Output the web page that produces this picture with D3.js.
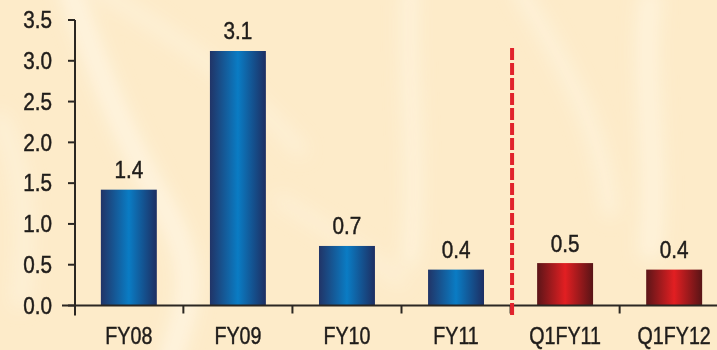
<!DOCTYPE html>
<html><head><meta charset="utf-8">
<script src="https://cdn.jsdelivr.net/npm/d3@7/dist/d3.min.js"></script>
<style>html,body{margin:0;padding:0;background:#fdebc9;}svg{display:block;}</style>
</head><body>
<svg id="c" width="717" height="350"></svg>
<script>
const categories = ["FY08","FY09","FY10","FY11","Q1FY11","Q1FY12"];
const values = [1.42, 3.12, 0.73, 0.44, 0.52, 0.44];
const valueLabels = ["1.4","3.1","0.7","0.4","0.5","0.4"];
const groups = ["annual","annual","annual","annual","quarter","quarter"];
const yTicks = [0,0.5,1.0,1.5,2.0,2.5,3.0,3.5];

const svg = d3.select("#c");
const W = 717, H = 350;
const font = "'Liberation Sans', Arial, Helvetica, sans-serif";
const axisColor = "#2b2722";
const textColor = "#1f1c1a";

const defs = svg.append("defs");
const blur = defs.append("filter").attr("id","blur").attr("x","-50%").attr("y","-50%").attr("width","200%").attr("height","200%");
blur.append("feGaussianBlur").attr("stdDeviation", 9);
function grad(id, edge1, mid, edge2){
  const g = defs.append("linearGradient").attr("id", id).attr("x1","0").attr("x2","1").attr("y1","0").attr("y2","0");
  g.append("stop").attr("offset","0%").attr("stop-color", edge1);
  g.append("stop").attr("offset","50%").attr("stop-color", mid);
  g.append("stop").attr("offset","100%").attr("stop-color", edge2);
}
grad("gBlue", "#213467", "#0a7cc4", "#1d2e62");
grad("gRed", "#5c1518", "#e21f22", "#581416");

// background
svg.append("rect").attr("width", W).attr("height", H).attr("fill", "#fdebc9");
const bg = svg.append("g").attr("filter","url(#blur)").attr("fill","none").attr("stroke","#fff8e8").attr("stroke-linecap","round");
const streaks = [
  {d:"M70,-10 C95,60 120,130 160,200 S190,300 170,360", w:22, o:0.7},
  {d:"M100,-10 C180,40 240,80 300,150", w:14, o:0.5},
  {d:"M410,-10 C405,80 420,160 410,260", w:16, o:0.6},
  {d:"M520,-10 C560,60 600,120 610,210", w:16, o:0.55},
  {d:"M650,0 C640,80 660,160 650,250", w:22, o:0.6},
  {d:"M0,120 C20,160 30,220 20,300", w:18, o:0.45},
  {d:"M280,200 C330,230 360,250 400,280", w:14, o:0.4}
];
bg.selectAll("path").data(streaks).join("path")
  .attr("d", d => d.d).attr("stroke-width", d => d.w).attr("opacity", d => d.o);

// scales
const x = d3.scaleBand().domain(categories).range([74.3, 728.7]).paddingInner(0.487).paddingOuter(0.2435);
const y = d3.scaleLinear().domain([0, 3.5]).range([305.5, 20]);
const step = x.step(), bw = x.bandwidth();
const axisX = 75, baseY = y(0);

// bars
svg.append("g").selectAll("rect").data(categories).join("rect")
  .attr("x", d => x(d)).attr("width", bw)
  .attr("y", (d,i) => y(values[i])).attr("height", (d,i) => baseY - y(values[i]))
  .attr("fill", (d,i) => groups[i] === "annual" ? "url(#gBlue)" : "url(#gRed)");

function styleText(sel, size){
  sel.attr("font-family", font).attr("font-size", size).attr("fill", textColor)
     .attr("stroke", textColor).attr("stroke-width", 0.45);
}

// value labels
styleText(svg.append("g").selectAll("text").data(categories).join("text")
  .attr("transform", (d,i) => `translate(${x(d) + bw/2},${y(values[i]) - 11.5}) scale(0.9,1)`)
  .attr("text-anchor","middle")
  .text((d,i) => valueLabels[i]), 23);

// y axis
const ya = svg.append("g");
ya.append("line").attr("x1", axisX).attr("x2", axisX).attr("y1", y(3.5)).attr("y2", baseY + 10)
  .attr("stroke", axisColor).attr("stroke-width", 2);
ya.selectAll("line.t").data(yTicks).join("line").attr("class","t")
  .attr("x1", axisX - 7).attr("x2", axisX).attr("y1", d => y(d)).attr("y2", d => y(d))
  .attr("stroke", axisColor).attr("stroke-width", 2);
styleText(ya.selectAll("text").data(yTicks).join("text")
  .attr("transform", d => `translate(${axisX - 23},${y(d) + 8.3}) scale(0.9,1)`)
  .attr("text-anchor","end")
  .text(d => d3.format(".1f")(d)), 23);

// x axis
const xa = svg.append("g");
xa.append("line").attr("x1", 62).attr("x2", W).attr("y1", baseY).attr("y2", baseY)
  .attr("stroke", axisColor).attr("stroke-width", 2);
const bounds = categories.slice(0, -1).map(d => x(d) + bw + (step - bw)/2);
xa.selectAll("line.t").data(bounds).join("line").attr("class","t")
  .attr("x1", d => d).attr("x2", d => d).attr("y1", baseY).attr("y2", baseY + 8)
  .attr("stroke", axisColor).attr("stroke-width", 2);
styleText(xa.selectAll("text").data(categories).join("text")
  .attr("transform", d => `translate(${x(d) + bw/2},${344}) scale(0.82,1)`)
  .attr("text-anchor","middle")
  .text(d => d), 24);

// divider dashed line between FY11 and Q1FY11
const divX = bounds[3];
svg.append("line").attr("x1", divX + 1.5).attr("x2", divX + 1.5).attr("y1", 48).attr("y2", baseY + 10)
  .attr("stroke", "#e1232c").attr("stroke-width", 4).attr("stroke-dasharray", "12,3");
</script>
</body></html>
